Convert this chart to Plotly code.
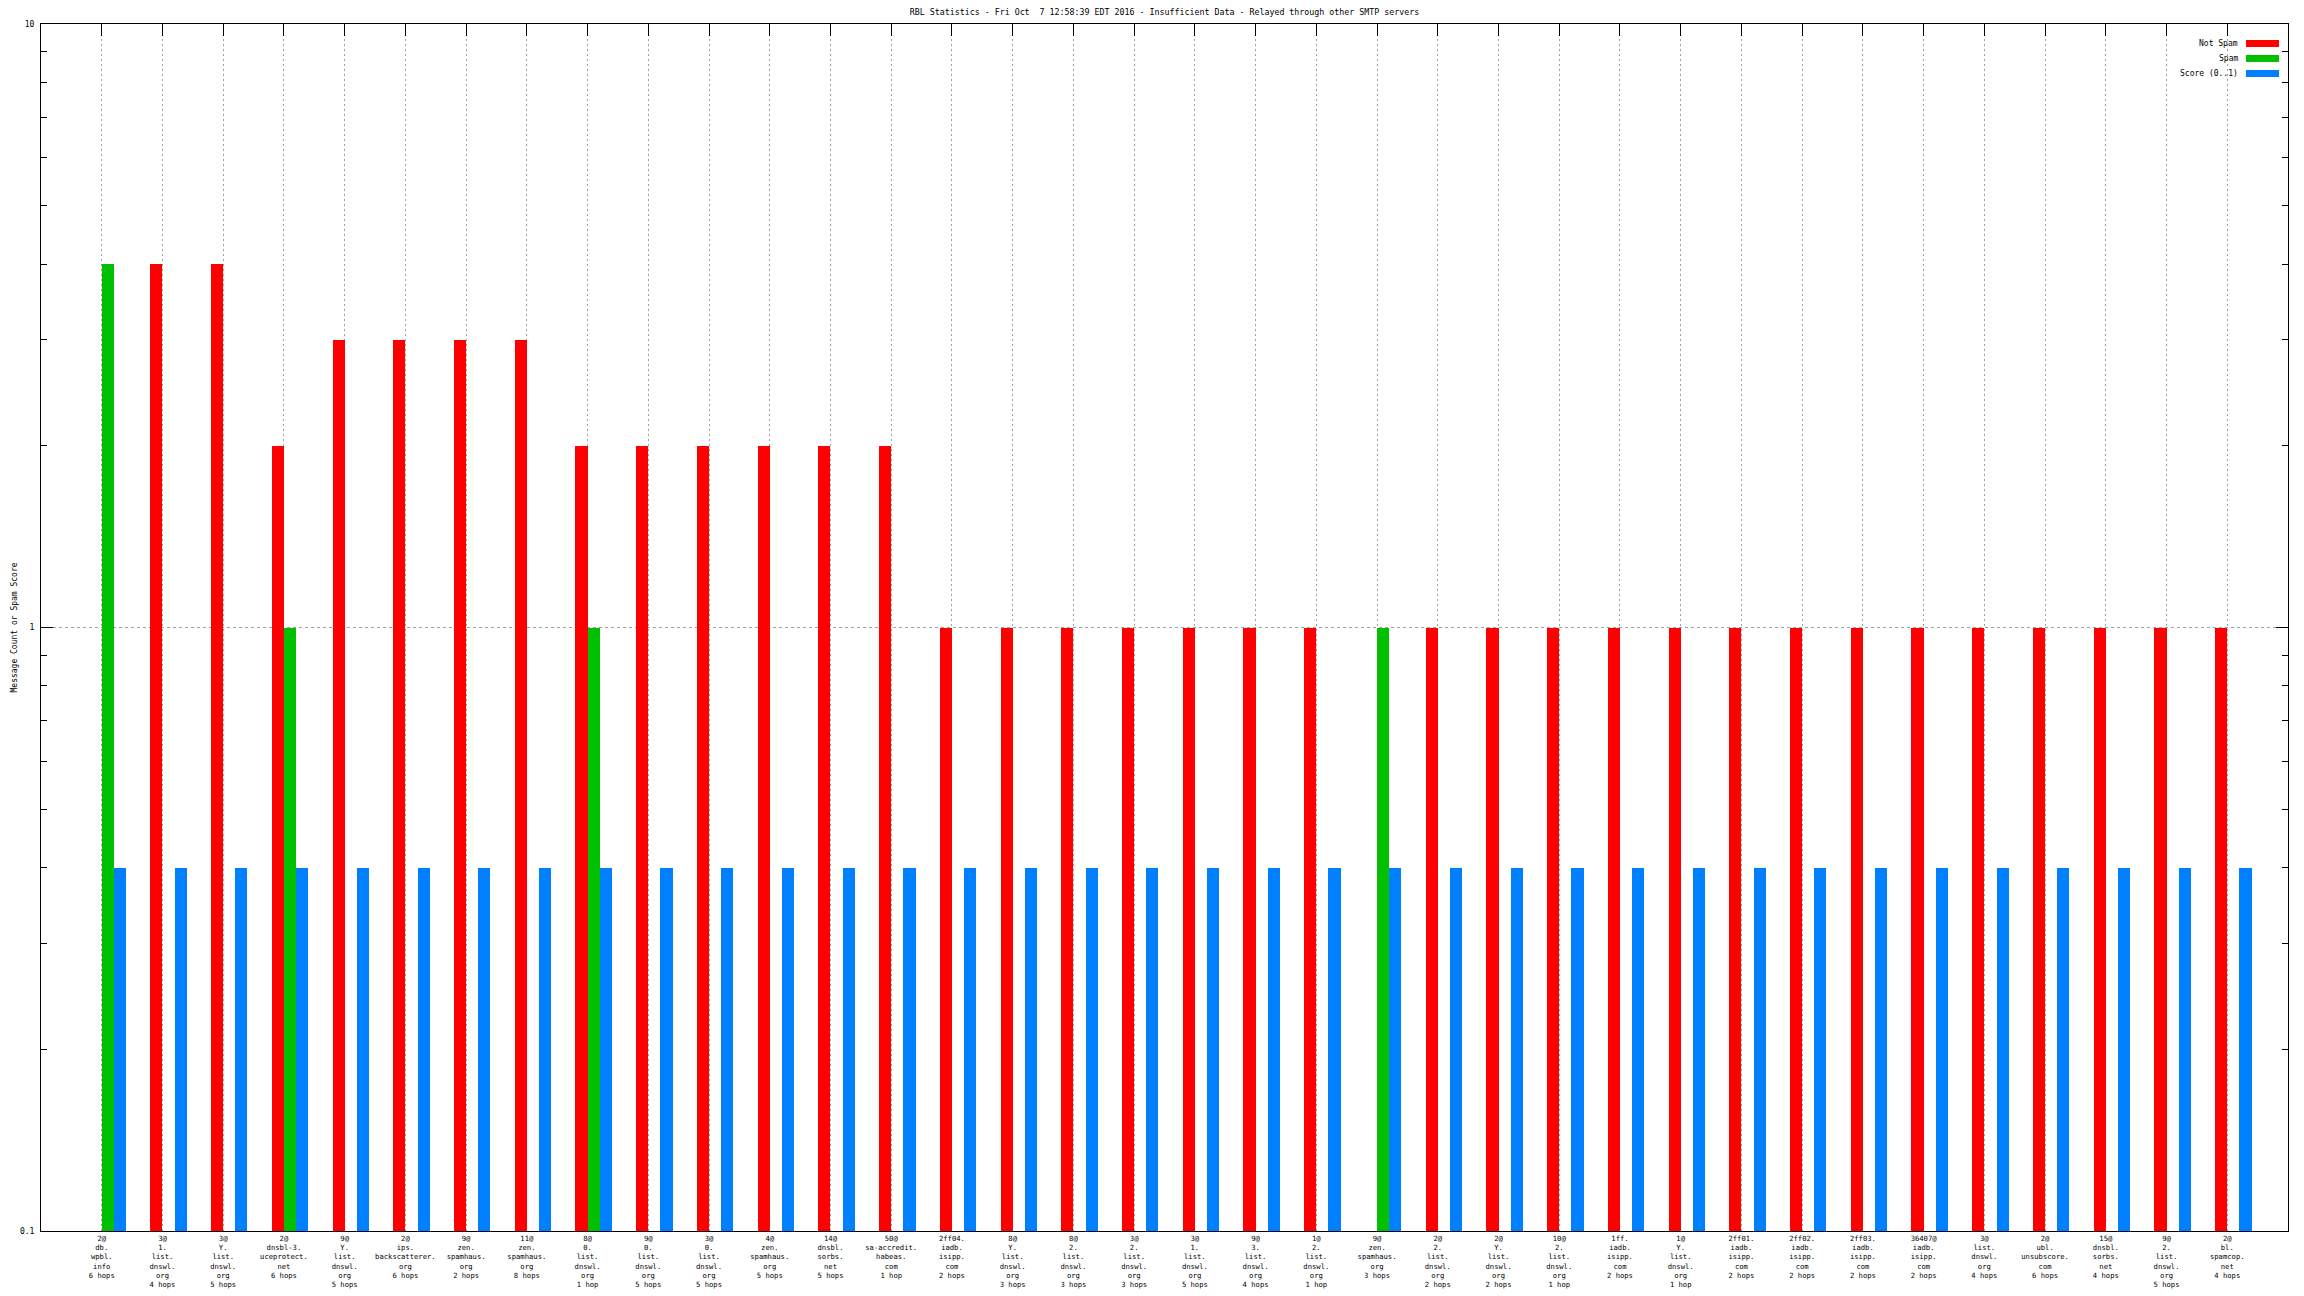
import plotly.graph_objects as go

# ---- data ----
categories = [
    "2@<br>db.<br>wpbl.<br>info<br>6 hops",
    "3@<br>1.<br>list.<br>dnswl.<br>org<br>4 hops",
    "3@<br>Y.<br>list.<br>dnswl.<br>org<br>5 hops",
    "2@<br>dnsbl-3.<br>uceprotect.<br>net<br>6 hops",
    "9@<br>Y.<br>list.<br>dnswl.<br>org<br>5 hops",
    "2@<br>ips.<br>backscatterer.<br>org<br>6 hops",
    "9@<br>zen.<br>spamhaus.<br>org<br>2 hops",
    "11@<br>zen.<br>spamhaus.<br>org<br>8 hops",
    "8@<br>0.<br>list.<br>dnswl.<br>org<br>1 hop",
    "9@<br>0.<br>list.<br>dnswl.<br>org<br>5 hops",
    "3@<br>0.<br>list.<br>dnswl.<br>org<br>5 hops",
    "4@<br>zen.<br>spamhaus.<br>org<br>5 hops",
    "14@<br>dnsbl.<br>sorbs.<br>net<br>5 hops",
    "50@<br>sa-accredit.<br>habeas.<br>com<br>1 hop",
    "2ff04.<br>iadb.<br>isipp.<br>com<br>2 hops",
    "8@<br>Y.<br>list.<br>dnswl.<br>org<br>3 hops",
    "8@<br>2.<br>list.<br>dnswl.<br>org<br>3 hops",
    "3@<br>2.<br>list.<br>dnswl.<br>org<br>3 hops",
    "3@<br>1.<br>list.<br>dnswl.<br>org<br>5 hops",
    "9@<br>3.<br>list.<br>dnswl.<br>org<br>4 hops",
    "1@<br>2.<br>list.<br>dnswl.<br>org<br>1 hop",
    "9@<br>zen.<br>spamhaus.<br>org<br>3 hops",
    "2@<br>2.<br>list.<br>dnswl.<br>org<br>2 hops",
    "2@<br>Y.<br>list.<br>dnswl.<br>org<br>2 hops",
    "10@<br>2.<br>list.<br>dnswl.<br>org<br>1 hop",
    "1ff.<br>iadb.<br>isipp.<br>com<br>2 hops",
    "1@<br>Y.<br>list.<br>dnswl.<br>org<br>1 hop",
    "2ff01.<br>iadb.<br>isipp.<br>com<br>2 hops",
    "2ff02.<br>iadb.<br>isipp.<br>com<br>2 hops",
    "2ff03.<br>iadb.<br>isipp.<br>com<br>2 hops",
    "36407@<br>iadb.<br>isipp.<br>com<br>2 hops",
    "3@<br>list.<br>dnswl.<br>org<br>4 hops",
    "2@<br>ubl.<br>unsubscore.<br>com<br>6 hops",
    "15@<br>dnsbl.<br>sorbs.<br>net<br>4 hops",
    "9@<br>2.<br>list.<br>dnswl.<br>org<br>5 hops",
    "2@<br>bl.<br>spamcop.<br>net<br>4 hops",
]
not_spam = [None, 4, 4, 2, 3, 3, 3, 3, 2, 2, 2, 2, 2, 2, 1, 1, 1, 1, 1, 1, 1,
            None, 1, 1, 1, 1, 1, 1, 1, 1, 1, 1, 1, 1, 1, 1]
spam = [4, None, None, 1, None, None, None, None, 1, None, None, None, None, None,
        None, None, None, None, None, None, None, 1, None, None, None, None, None,
        None, None, None, None, None, None, None, None, None]
score = [0.4] * 36

series_names = ["Not Spam", "Spam", "Score (0..1)"]
series_colors = ["#ff0000", "#00c000", "#0080ff"]
y_tick_vals = [0.1, 1, 10]
y_tick_text = ["0.1", "1", "10"]
title_text = "RBL Statistics - Fri Oct  7 12:58:39 EDT 2016 - Insufficient Data - Relayed through other SMTP servers"
y_title = "Message Count or Spam Score"

idx = list(range(len(categories)))
FONT = "DejaVu Sans Mono"
W = 0.2

fig = go.Figure()
for vals, off, col, name in zip([not_spam, spam, score], [-W, 0, W], series_colors, series_names):
    fig.add_trace(go.Bar(x=idx, y=vals, width=W, offset=off, marker=dict(color=col, line=dict(width=0)),
                         name=name, showlegend=False))

# invisible trace to activate top axis
fig.add_trace(go.Scatter(x=[idx[0]], y=[1], xaxis="x2", mode="markers",
                         marker=dict(opacity=0), showlegend=False, hoverinfo="skip"))

# page body has an 8px margin: figure is placed at (8,8) in the window
OFF = 8
FW, FH = 2304 - OFF, 1296 - OFF
PL, PR, PT, PB = 41, 2288, 24, 1231          # plot box in window pixels
L, R, T, B = PL - OFF, FW - (PR - OFF), PT - OFF, FH - (PB - OFF)
PW, PH = PR - PL, PB - PT

minor_vals = [m * 10 ** e for e in (-1, 0) for m in range(2, 10)]

fig.update_layout(
    width=FW, height=FH,
    margin=dict(l=L, r=R, t=T, b=B, autoexpand=False),
    plot_bgcolor="white", paper_bgcolor="white",
    barmode="overlay", bargap=0,
    font=dict(family=FONT, size=8, color="black"),
    title=dict(text=title_text, x=(PL + PW / 2 - OFF) / FW, xanchor="center",
               y=1 - (12 - OFF) / FH, yanchor="middle",
               font=dict(family=FONT, size=8.3, color="black")),
    xaxis=dict(range=[-1, 36], tickmode="array", tickvals=idx, ticktext=categories,
               ticks="", showgrid=False, zeroline=False, showline=True, linecolor="black",
               linewidth=1, mirror=True, tickfont=dict(family=FONT, size=7.2, color="black"),
               tickangle=0, automargin=False),
    xaxis2=dict(range=[-1, 36], overlaying="x", side="top", anchor="y", tickmode="array",
                tickvals=idx, showticklabels=False, ticks="inside", ticklen=12, tickwidth=1,
                tickcolor="black", showgrid=True, gridcolor="#a0a0a0", gridwidth=1,
                griddash="2px,3px", zeroline=False, showline=False),
    yaxis=dict(type="log", range=[-1, 1], tickmode="array", tickvals=y_tick_vals,
               ticktext=y_tick_text, ticks="inside", ticklen=12, tickwidth=1, tickcolor="black",
               showline=True, linecolor="black", linewidth=1, mirror="ticks",
               showgrid=True, gridcolor="#a0a0a0", gridwidth=1, griddash="3px,3px",
               zeroline=False, automargin=False, ticklabelstandoff=4,
               tickfont=dict(family=FONT, size=8, color="black"),
               minor=dict(tickmode="array", tickvals=minor_vals, ticks="inside", ticklen=6,
                          tickwidth=1, tickcolor="black", showgrid=False)),
)

# y-axis title (kept inside the page's visible area)
fig.add_annotation(text=y_title, textangle=-90, xref="paper", yref="paper",
                   x=(14 - PL) / PW, y=0.5, xanchor="center", yanchor="middle",
                   showarrow=False, font=dict(family=FONT, size=8, color="black"))

# custom legend (text + swatches)
row_y = [43.5, 58.5, 73.5]
for name, col, ypx in zip(series_names, series_colors, row_y):
    yp = (PB - ypx) / PH
    fig.add_annotation(text=name, xref="paper", yref="paper", x=(2240 - PL) / PW, y=yp,
                       xanchor="right", yanchor="middle", showarrow=False,
                       font=dict(family=FONT, size=8, color="black"))
    fig.add_shape(type="rect", xref="paper", yref="paper",
                  x0=(2246 - PL) / PW, x1=(2279 - PL) / PW,
                  y0=yp - 3.5 / PH, y1=yp + 3.5 / PH,
                  fillcolor=col, line=dict(width=0))

fig.write_html("out.html")
